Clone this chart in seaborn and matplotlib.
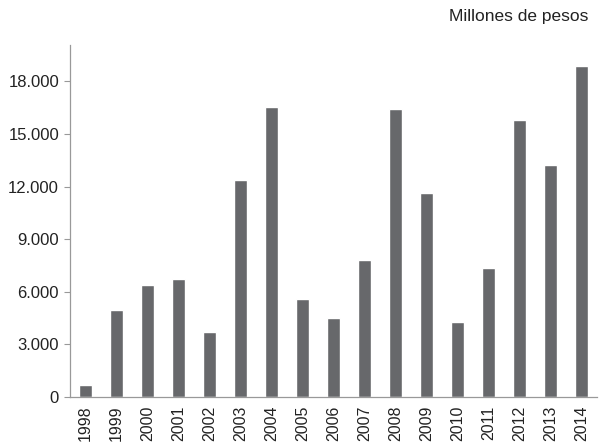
import pandas as pd
import matplotlib.pyplot as plt
import seaborn as sns
import numpy as np

years = ['1998', '1999', '2000', '2001', '2002', '2003', '2004', '2005', '2006',
         '2007', '2008', '2009', '2010', '2011', '2012', '2013', '2014']
values = [700, 4950, 6400, 6720, 3730, 12350, 16550, 5580, 4520,
          7800, 16450, 11650, 4300, 7330, 15800, 13250, 18850]
y_ticks = [0, 3000, 6000, 9000, 12000, 15000, 18000]
y_labels = ['0', '3.000', '6.000', '9.000', '12.000', '15.000', '18.000']
unit_label = 'Millones de pesos'

sns.set_style('white')
plt.rcParams['font.family'] = ['Liberation Sans', 'DejaVu Sans']

df = pd.DataFrame({'Year': years, 'Value': values})

fig = plt.figure(figsize=(6, 4.45), dpi=100)
ax = fig.add_axes([0.117, 0.108, 0.878, 0.792])
sns.barplot(data=df, x='Year', y='Value', color='#67686b', saturation=1,
            width=0.4, ax=ax)

ax.set_xlim(-0.5, len(years) - 0.5)
ax.set_ylim(0, 20100)
ax.set_yticks(y_ticks)
ax.set_yticklabels(y_labels, fontsize=12, color='#222222')
ax.set_xlabel('')
ax.set_ylabel('')

# x labels centred under bars, tick marks at category edges
ax.tick_params(axis='x', which='major', length=0, labelsize=11.5, labelrotation=90,
               labelcolor='#222222', pad=6)
ax.set_xticks(np.arange(len(years) + 1) - 0.5, minor=True)
ax.tick_params(axis='x', which='minor', length=4, color='#999999', width=0.8)
ax.tick_params(axis='y', length=4, color='#999999', width=0.8, left=True, pad=4)

for side in ['top', 'right']:
    ax.spines[side].set_visible(False)
for side in ['left', 'bottom']:
    ax.spines[side].set_color('#999999')
    ax.spines[side].set_linewidth(0.9)

fig.text(0.98, 0.962, unit_label, ha='right', va='center', fontsize=12.5,
         color='#222222')

fig.savefig('out.png', dpi=100)
